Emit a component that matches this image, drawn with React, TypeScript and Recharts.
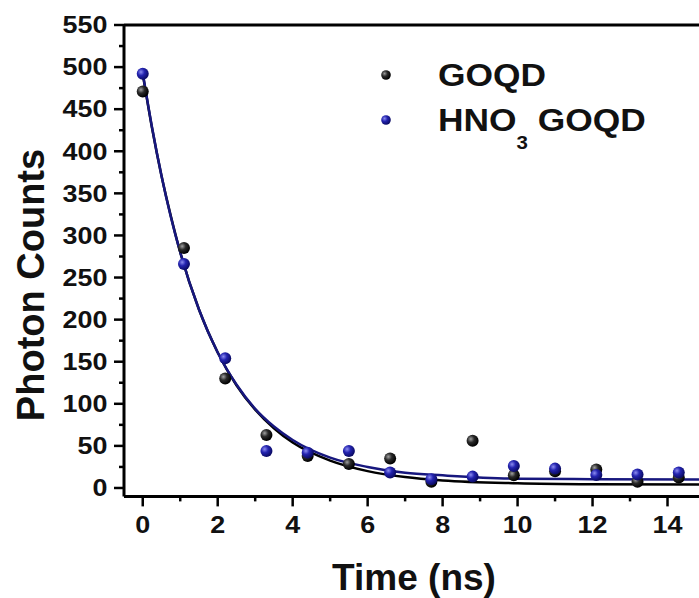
import React from 'react';
import {
  ComposedChart,
  Line,
  Scatter,
  XAxis,
  YAxis,
  ReferenceLine,
  Legend,
  Label,
} from 'recharts';

// Measured decay times (ns)
const TIMES = [0, 1.1, 2.2, 3.3, 4.4, 5.5, 6.6, 7.7, 8.8, 9.9, 11, 12.1, 13.2, 14.3];
// Photon counts per series
const GOQD = [471, 285, 130, 63, 38, 28.5, 35, 7.5, 56, 15, 20, 22, 7.5, 12.5];
const HNO3_GOQD = [492, 266, 154, 44, 42, 44, 18.5, 10.5, 13.5, 26, 23, 15.5, 16, 18.5];

// Fitted decay curves
const FIT_TIMES = [0, 0.25, 0.5, 0.75, 1, 1.5, 2, 2.5, 3, 3.5, 4, 5, 6, 7, 8, 10, 12, 15];
const GOQD_FIT = [492, 427, 371, 323, 280, 212, 161, 122, 93, 71, 54, 32.5, 20, 13, 9, 5.7, 4.5, 4];
const HNO3_FIT = [493, 428, 371, 322, 280, 212, 161, 123, 94, 73, 57, 36, 25, 18, 15, 11, 10.5, 10];

// Axis ticks (majors carry labels, minors are short marks)
const X_TICKS = [0, 1, 2, 3, 4, 5, 6, 7, 8, 9, 10, 11, 12, 13, 14, 15];
const Y_TICKS = [0, 25, 50, 75, 100, 125, 150, 175, 200, 225, 250, 275, 300, 325, 350, 375, 400, 425, 450, 475, 500, 525, 550];

const SERIES_NAMES = ['GOQD', 'HNO3 GOQD'];

const FONT = '"Liberation Sans", Arial, sans-serif';

const goqdPoints = TIMES.map((t, i) => ({ t, y: GOQD[i] }));
const hno3Points = TIMES.map((t, i) => ({ t, y: HNO3_GOQD[i] }));
const goqdFit = FIT_TIMES.map((t, i) => ({ t, y: GOQD_FIT[i] }));
const hno3Fit = FIT_TIMES.map((t, i) => ({ t, y: HNO3_FIT[i] }));

const YTick = (props: any) => {
  const { x, y, payload } = props;
  const v = payload.value;
  const major = v % 50 === 0;
  return (
    <g>
      <line x1={x - (major ? 10 : 5)} x2={x} y1={y} y2={y} stroke="#000" strokeWidth={2.5} />
      {major && (
        <text
          transform={`translate(${x - 16.5},${y + 8.3}) scale(1.17,1)`}
          textAnchor="end"
          fontFamily={FONT}
          fontWeight="bold"
          fontSize={23}
          fill="#111"
        >
          {v}
        </text>
      )}
    </g>
  );
};

const XTick = (props: any) => {
  const { x, y, payload } = props;
  const v = payload.value;
  const major = v % 2 === 0;
  return (
    <g>
      <line x1={x} x2={x} y1={y} y2={y + (major ? 10 : 5)} stroke="#000" strokeWidth={2.5} />
      {major && (
        <text
          transform={`translate(${x},${y + 37}) scale(1.17,1)`}
          textAnchor="middle"
          fontFamily={FONT}
          fontWeight="bold"
          fontSize={23}
          fill="#111"
        >
          {v}
        </text>
      )}
    </g>
  );
};

// Renders chemical formulas with digits as subscripts
const formula = (name: string, baseSize: number) =>
  name.split(/(\d+)/).map((part, i) =>
    /^\d+$/.test(part) ? (
      <tspan key={i} fontSize={baseSize * 0.58} dy={18}>
        {part}
      </tspan>
    ) : (
      <tspan key={i} dy={i > 0 ? -18 : 0}>
        {part}
      </tspan>
    )
  );

const LegendBox = () => {
  const fills = ['url(#ballBlack)', 'url(#ballBlue)'];
  return (
    <svg width={699} height={170} style={{ overflow: 'visible' }}>
      <defs>
        <radialGradient id="legBlack" cx="35%" cy="35%" r="65%">
          <stop offset="0%" stopColor="#9a9a9a" />
          <stop offset="45%" stopColor="#2a2a2a" />
          <stop offset="100%" stopColor="#000" />
        </radialGradient>
        <radialGradient id="legBlue" cx="35%" cy="35%" r="65%">
          <stop offset="0%" stopColor="#8c8cf0" />
          <stop offset="45%" stopColor="#2424b0" />
          <stop offset="100%" stopColor="#0b0b66" />
        </radialGradient>
      </defs>
      {SERIES_NAMES.map((name, i) => {
        const cy = 75 + i * 45;
        return (
          <g key={name}>
            <circle cx={386} cy={cy} r={4.8} fill={i === 0 ? 'url(#legBlack)' : 'url(#legBlue)'} data-fill={fills[i]} />
            <text
              transform={`translate(438,${cy + 11}) scale(1.14,1)`}
              fontFamily={FONT}
              fontWeight="bold"
              fontSize={31}
              fill="#111"
            >
              {formula(name, 31)}
            </text>
          </g>
        );
      })}
    </svg>
  );
};

const ballShape = (fill: string) => (props: any) => (
  <circle cx={props.cx} cy={props.cy} r={6} fill={fill} />
);

export default function App() {
  return (
    <div
      style={{
        position: 'fixed',
        left: 0,
        top: 0,
        width: 699,
        height: 598,
        overflow: 'hidden',
        background: '#fff',
      }}
    >
      <ComposedChart width={720} height={598} margin={{ top: 25, right: 15, bottom: 41.6, left: 0 }}>
        <defs>
          <radialGradient id="ballBlack" cx="35%" cy="35%" r="65%">
            <stop offset="0%" stopColor="#a0a0a0" />
            <stop offset="45%" stopColor="#2a2a2a" />
            <stop offset="100%" stopColor="#000" />
          </radialGradient>
          <radialGradient id="ballBlue" cx="35%" cy="35%" r="65%">
            <stop offset="0%" stopColor="#8c8cf0" />
            <stop offset="45%" stopColor="#2424b0" />
            <stop offset="100%" stopColor="#0b0b66" />
          </radialGradient>
        </defs>
        <XAxis
          type="number"
          dataKey="t"
          domain={[-0.5, 15]}
          ticks={X_TICKS}
          interval={0}
          allowDataOverflow
          height={60}
          tickSize={0}
          tickMargin={0}
          tickLine={false}
          axisLine={{ stroke: '#000', strokeWidth: 3 }}
          tick={<XTick />}
        >
          <Label
            content={() => (
              <text
                x={414}
                y={590}
                textAnchor="middle"
                fontFamily={FONT}
                fontWeight="bold"
                fontSize={37}
                fill="#111"
              >
                Time (ns)
              </text>
            )}
          />
        </XAxis>
        <YAxis
          type="number"
          domain={[-10, 550]}
          ticks={Y_TICKS}
          interval={0}
          allowDataOverflow
          width={124}
          tickSize={0}
          tickMargin={0}
          tickLine={false}
          axisLine={{ stroke: '#000', strokeWidth: 3 }}
          tick={<YTick />}
        >
          <Label
            content={() => (
              <text
                transform="translate(44,285) rotate(-90)"
                textAnchor="middle"
                fontFamily={FONT}
                fontWeight="bold"
                fontSize={38}
                fill="#111"
              >
                Photon Counts
              </text>
            )}
          />
        </YAxis>
        <ReferenceLine y={550} stroke="#000" strokeWidth={3} />
        <Line
          data={goqdFit}
          dataKey="y"
          type="monotone"
          stroke="#000"
          strokeWidth={2.5}
          dot={false}
          legendType="none"
          isAnimationActive={false}
        />
        <Line
          data={hno3Fit}
          dataKey="y"
          type="monotone"
          stroke="#17177e"
          strokeWidth={2.5}
          dot={false}
          legendType="none"
          isAnimationActive={false}
        />
        <Scatter
          name={SERIES_NAMES[0]}
          data={goqdPoints}
          dataKey="y"
          fill="#111"
          shape={ballShape('url(#ballBlack)')}
          isAnimationActive={false}
        />
        <Scatter
          name={SERIES_NAMES[1]}
          data={hno3Points}
          dataKey="y"
          fill="#2424b0"
          shape={ballShape('url(#ballBlue)')}
          isAnimationActive={false}
        />
        <Legend
          layout="horizontal"
          verticalAlign="middle"
          align="center"
          wrapperStyle={{ left: 0, top: 0, width: 699, height: 170, pointerEvents: 'none' }}
          content={() => <LegendBox />}
        />
      </ComposedChart>
    </div>
  );
}
